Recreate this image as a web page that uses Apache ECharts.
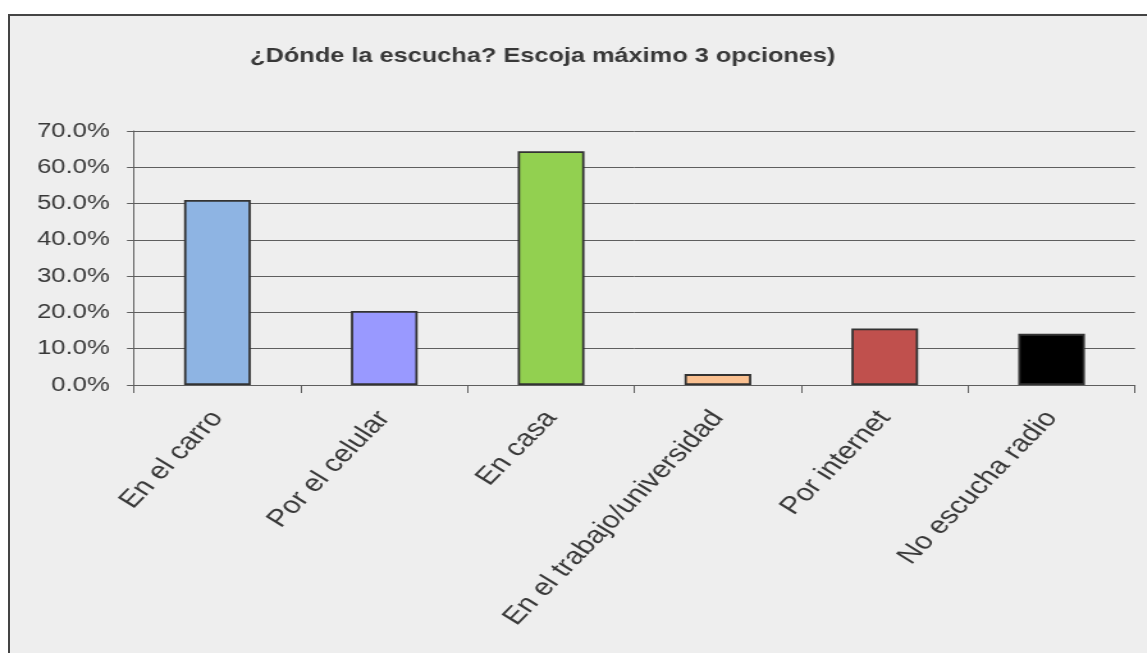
<!DOCTYPE html>
<html>
<head>
<meta charset="utf-8">
<title>¿Dónde la escucha?</title>
<script src="https://cdn.jsdelivr.net/npm/echarts@6/dist/echarts.min.js"></script>
<style>
  html, body { margin: 0; padding: 0; background: #ffffff; overflow: hidden; width: 1147px; height: 653px; }
  #frame {
    position: absolute; left: 8px; top: 14px; width: 1200px; height: 700px;
    background: #eeeeee; border-top: 2px solid #444444; border-left: 2px solid #444444;
  }
  /* The chart is laid out on a narrower canvas and widened, giving the wide lettering of the sheet. */
  #chart {
    position: absolute; left: 0; top: 0; width: 896px; height: 653px;
    transform: scaleX(1.28); transform-origin: 0 0;
  }
</style>
</head>
<body>
<div id="frame"></div>
<div id="chart"></div>
<script>
// Survey answers: where the radio is listened to (up to 3 options), in percent.
const titleText = '¿Dónde la escucha? Escoja máximo 3 opciones)';
const categories = ['En el carro', 'Por el celular', 'En casa', 'En el trabajo/universidad', 'Por internet', 'No escucha radio'];
const shares = [51.0, 20.4, 64.4, 3.0, 15.6, 14.1];
const barColors = ['#8eb4e3', '#9999ff', '#92d050', '#fac090', '#c0504d', '#000000'];
const yMin = 0, yMax = 70, yStep = 10;

const FONT = "'Liberation Sans', Arial, sans-serif";
const INK = '#383838';
const RULE = '#5e5e5e';

const chart = echarts.init(document.getElementById('chart'), null, { renderer: 'canvas' });
chart.setOption({
  animation: false,
  backgroundColor: 'transparent',
  title: {
    text: titleText,
    left: 424, top: 47, padding: 0,
    textAlign: 'center',
    textStyle: { fontFamily: FONT, fontSize: 19.8, fontWeight: 'bold', color: INK }
  },
  grid: { left: 104.7, top: 131, width: 782, height: 254, containLabel: false },
  xAxis: {
    type: 'category',
    data: categories,
    boundaryGap: true,
    axisLine: { show: true, lineStyle: { color: RULE, width: 1 } },
    axisTick: { show: true, length: 8, alignWithLabel: false, lineStyle: { color: RULE, width: 1 } },
    axisLabel: {
      interval: 0, rotate: 52, margin: 29,
      fontFamily: FONT, fontSize: 24, color: INK
    },
    splitLine: { show: false }
  },
  yAxis: {
    type: 'value',
    min: yMin, max: yMax, interval: yStep,
    axisLine: { show: true, lineStyle: { color: RULE, width: 1 } },
    axisTick: { show: true, length: 5.5, lineStyle: { color: RULE, width: 1 } },
    axisLabel: {
      margin: 19, fontFamily: FONT, fontSize: 20, color: INK,
      formatter: v => v.toFixed(1) + '%'
    },
    splitLine: { show: true, lineStyle: { color: RULE, width: 1 } }
  },
  series: [{
    type: 'bar',
    barWidth: '40%',
    data: shares.map((v, i) => ({ value: v, itemStyle: { color: barColors[i] } })),
    itemStyle: { borderColor: '#333333', borderWidth: 1.8 }
  }]
});
</script>
</body>
</html>
